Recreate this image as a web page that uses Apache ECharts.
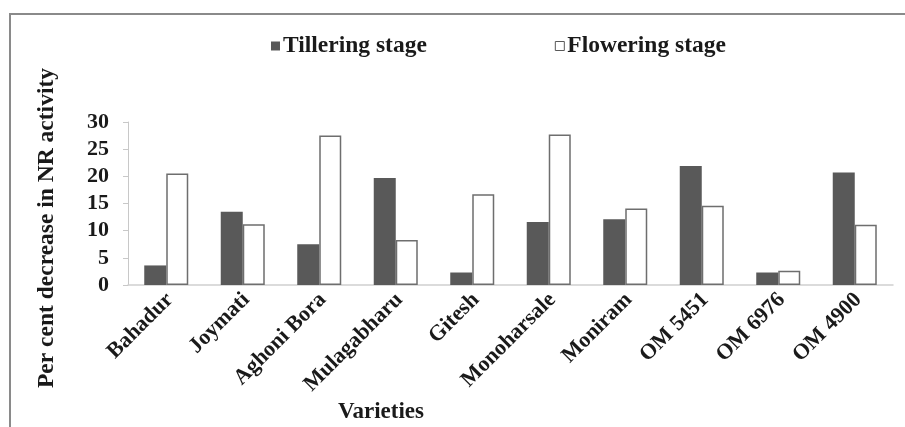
<!DOCTYPE html>
<html>
<head>
<meta charset="utf-8">
<script src="https://cdn.jsdelivr.net/npm/echarts@6/dist/echarts.min.js"></script>
<style>
html,body{margin:0;padding:0;background:#fff;}
#chart{width:905px;height:427px;}
</style>
</head>
<body>
<div id="chart"></div>
<script>
var categories = ['Bahadur','Joymati','Aghoni Bora','Mulagabharu','Gitesh','Monoharsale','Moniram','OM 5451','OM 6976','OM 4900'];
var tillering = [3.6, 13.5, 7.5, 19.7, 2.3, 11.6, 12.1, 21.9, 2.3, 20.7];
var flowering = [20.5, 11.2, 27.5, 8.3, 16.7, 27.7, 14.1, 14.6, 2.6, 11.1];
var yTicks = [0, 5, 10, 15, 20, 25, 30];
var seriesNames = ['Tillering stage', 'Flowering stage'];
var yTitle = 'Per cent decrease in NR activity';
var xTitle = 'Varieties';

var FONT = '"Liberation Serif", "Times New Roman", serif';
var chart = echarts.init(document.getElementById('chart'));
chart.setOption({
  animation: false,
  backgroundColor: '#fff',
  grid: {left: 128, right: 12, top: 122, bottom: 142},
  legend: {
    left: 266, top: 29,
    itemWidth: 9, itemHeight: 9, itemGap: 128,
    icon: 'rect',
    textStyle: {fontFamily: FONT, fontWeight: 'bold', fontSize: 23.5, color: '#1a1a1a', padding: [0,0,0,-2]},
    data: [
      {name: seriesNames[0], itemStyle: {color: '#595959', borderWidth: 0}},
      {name: seriesNames[1], itemStyle: {color: '#fff', borderColor: '#595959', borderWidth: 1}}
    ]
  },
  xAxis: {
    type: 'category',
    data: categories,
    axisLine: {lineStyle: {color: '#d0d0d0', width: 1.5}},
    axisTick: {show: false},
    axisLabel: {interval: 0, rotate: 45, margin: 15, fontFamily: FONT, fontWeight: 'bold', fontSize: 22, color: '#1a1a1a',
                padding: [8, -5, -8, 5]}
  },
  yAxis: {
    type: 'value',
    min: yTicks[0], max: yTicks[yTicks.length-1], interval: 5,
    axisLine: {show: true, lineStyle: {color: '#c8c8c8', width: 1}},
    axisTick: {show: true, length: 5, lineStyle: {color: '#c8c8c8'}},
    splitLine: {show: false},
    axisLabel: {margin: 19, fontFamily: FONT, fontWeight: 'bold', fontSize: 22, color: '#1a1a1a'}
  },
  series: [
    {name: seriesNames[0], type: 'bar', data: tillering, barWidth: 22, barGap: '0%',
     itemStyle: {color: '#595959'}},
    {name: seriesNames[1], type: 'bar', data: flowering, barWidth: 22, barGap: '0%',
     itemStyle: {color: '#ffffff', borderColor: '#6e6e6e', borderWidth: 1.5}}
  ],
  graphic: [
    {type: 'line', shape: {x1: 9, y1: 14, x2: 905, y2: 14}, style: {stroke: '#8a8a8a', lineWidth: 2}},
    {type: 'line', shape: {x1: 10, y1: 14, x2: 10, y2: 427}, style: {stroke: '#8a8a8a', lineWidth: 2}},
    {type: 'text', x: 47, y: 228, rotation: Math.PI/2,
     style: {text: yTitle, align: 'center', verticalAlign: 'middle', font: 'bold 23.5px ' + FONT, fill: '#1a1a1a'}},
    {type: 'text', x: 381, y: 412,
     style: {text: xTitle, align: 'center', verticalAlign: 'middle', font: 'bold 23px ' + FONT, fill: '#1a1a1a'}}
  ]
});
</script>
</body>
</html>
